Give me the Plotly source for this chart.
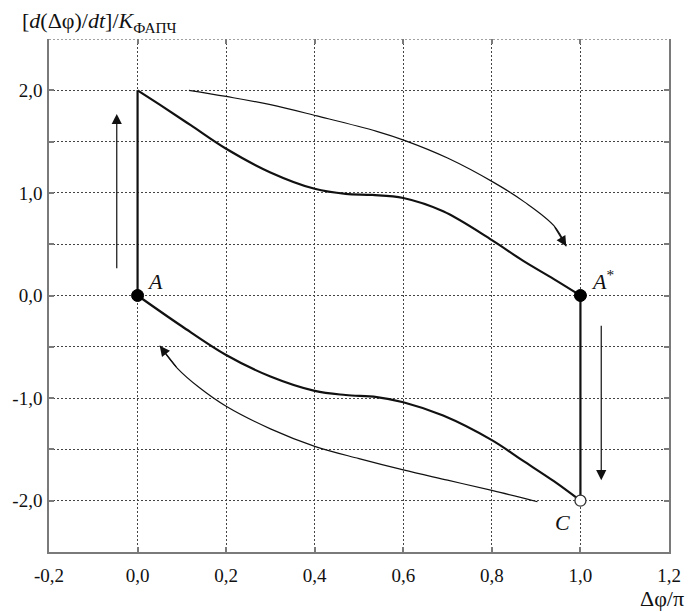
import plotly.graph_objects as go

# Phase trajectory of the PLL: upper branch from (0, 2) down to A*(1, 0)
upper_x = [0.0, 0.05, 0.12, 0.20, 0.30, 0.40, 0.47, 0.53, 0.60, 0.69, 0.80, 0.87, 0.94, 1.0]
upper_y = [2.0, 1.86, 1.66, 1.43, 1.20, 1.04, 0.99, 0.98, 0.95, 0.82, 0.54, 0.34, 0.16, 0.0]

# Lower branch from A(0, 0) down to C(1, -2)
lower_x = [0.0, 0.10, 0.20, 0.30, 0.40, 0.47, 0.54, 0.60, 0.69, 0.80, 0.87, 0.94, 1.0]
lower_y = [0.0, -0.30, -0.58, -0.79, -0.93, -0.97, -0.99, -1.04, -1.17, -1.41, -1.61, -1.81, -2.0]

# Vertical jumps of the phase error
jump_left_x = [0.0, 0.0]
jump_left_y = [0.0, 2.0]
jump_right_x = [1.0, 1.0]
jump_right_y = [0.0, -2.0]

# Thin direction-of-motion arrows along the branches
flow_upper_x = [0.116, 0.20, 0.30, 0.405, 0.54, 0.604, 0.70, 0.805, 0.874, 0.94, 0.968]
flow_upper_y = [2.0, 1.94, 1.86, 1.75, 1.60, 1.51, 1.34, 1.10, 0.91, 0.68, 0.48]
flow_lower_x = [0.903, 0.80, 0.70, 0.60, 0.50, 0.40, 0.30, 0.20, 0.14, 0.09, 0.05]
flow_lower_y = [-2.01, -1.90, -1.80, -1.70, -1.59, -1.47, -1.30, -1.08, -0.90, -0.71, -0.49]

# Straight arrows beside the jumps: (x, y_start, y_end)
arrow_up = (-0.047, 0.25, 1.77)
arrow_down = (1.047, -0.28, -1.80)

# Special points
points_filled_x = [0.0, 1.0]
points_filled_y = [0.0, 0.0]
point_open_x = [1.0]
point_open_y = [-2.0]

# Axes ticks
x_ticks = [-0.2, 0.0, 0.2, 0.4, 0.6, 0.8, 1.0, 1.2]
x_tick_labels = ["-0,2", "0,0", "0,2", "0,4", "0,6", "0,8", "1,0", "1,2"]
y_ticks = [-2.5, -2.0, -1.5, -1.0, -0.5, 0.0, 0.5, 1.0, 1.5, 2.0, 2.5]
y_tick_labels = ["", "-2,0", "", "-1,0", "", "0,0", "", "1,0", "", "2,0", ""]

FONT = "'Liberation Serif', 'Times New Roman', Times, serif"
INK = "#111111"
FRAME = "#7a7a7a"
GRID = "#444444"

fig = go.Figure()

thick = dict(color=INK, width=2.2)
thin = dict(color=INK, width=1.2)

fig.add_trace(go.Scatter(x=upper_x, y=upper_y, mode="lines",
                         line=dict(thick, shape="spline", smoothing=1.0)))
fig.add_trace(go.Scatter(x=lower_x, y=lower_y, mode="lines",
                         line=dict(thick, shape="spline", smoothing=1.0)))
fig.add_trace(go.Scatter(x=jump_left_x, y=jump_left_y, mode="lines", line=thick))
fig.add_trace(go.Scatter(x=jump_right_x, y=jump_right_y, mode="lines", line=thick))
fig.add_trace(go.Scatter(x=flow_upper_x, y=flow_upper_y, mode="lines",
                         line=dict(thin, shape="spline", smoothing=1.0)))
fig.add_trace(go.Scatter(x=flow_lower_x, y=flow_lower_y, mode="lines",
                         line=dict(thin, shape="spline", smoothing=1.0)))

fig.add_trace(go.Scatter(x=points_filled_x, y=points_filled_y, mode="markers",
                         marker=dict(size=12, color="#000000",
                                     line=dict(color="#000000", width=1))))
fig.add_trace(go.Scatter(x=point_open_x, y=point_open_y, mode="markers",
                         marker=dict(size=11, color="#ffffff",
                                     line=dict(color="#333333", width=1.3))))

# Empty trace that carries the top tick axis
fig.add_trace(go.Scatter(x=[], y=[], xaxis="x2", mode="lines", hoverinfo="skip"))

# Dotted upper edge of the plotting area (grid line at the top of the y range)
fig.add_shape(type="line", xref="paper", yref="y", x0=0, x1=1,
              y0=y_ticks[-1], y1=y_ticks[-1],
              line=dict(color=GRID, width=1, dash="2px,2px"), layer="below")

# Arrowheads of the curved flow lines
for xs, ys in ((flow_upper_x, flow_upper_y), (flow_lower_x, flow_lower_y)):
    fig.add_annotation(x=xs[-1], y=ys[-1], ax=xs[-2], ay=ys[-2],
                       xref="x", yref="y", axref="x", ayref="y",
                       text="", showarrow=True, arrowhead=2, arrowsize=1.7,
                       arrowwidth=1.2, arrowcolor=INK, standoff=0)

# Straight arrows
for ax_x, y0, y1 in (arrow_up, arrow_down):
    fig.add_annotation(x=ax_x, y=y1, ax=ax_x, ay=y0,
                       xref="x", yref="y", axref="x", ayref="y",
                       text="", showarrow=True, arrowhead=2, arrowsize=1.7,
                       arrowwidth=1.2, arrowcolor=INK, standoff=0)

# Point labels
label_font = dict(family=FONT, size=22, color=INK)
fig.add_annotation(x=points_filled_x[0], y=points_filled_y[0], text="<i>A</i>",
                   showarrow=False, xanchor="left", yanchor="bottom",
                   xshift=7, yshift=0, font=label_font)
fig.add_annotation(x=points_filled_x[1], y=points_filled_y[1], text="<i>A</i><sup>*</sup>",
                   showarrow=False, xanchor="left", yanchor="bottom",
                   xshift=9, yshift=0, font=label_font)
fig.add_annotation(x=point_open_x[0], y=point_open_y[0], text="<i>C</i>",
                   showarrow=False, xanchor="right", yanchor="middle",
                   xshift=-8, yshift=-22, font=label_font)

# Axis titles
fig.add_annotation(xref="paper", yref="paper", x=-0.046, y=1.033,
                   xanchor="left", yanchor="middle", showarrow=False,
                   text="[<i>d</i>(Δφ)/<i>dt</i>]/<i>K</i><sub>ФАПЧ</sub>",
                   font=dict(family=FONT, size=22, color=INK))
fig.add_annotation(xref="paper", yref="paper", x=1.027, y=-0.09,
                   xanchor="right", yanchor="middle", showarrow=False,
                   text="Δφ/π", font=dict(family=FONT, size=22, color=INK))

grid = dict(showgrid=True, gridcolor=GRID, gridwidth=1, griddash="2px,2px",
            zeroline=False)

fig.update_layout(
    width=693, height=612,
    margin=dict(l=46, r=14, t=39, b=60),
    paper_bgcolor="white", plot_bgcolor="white",
    showlegend=False,
    font=dict(family=FONT, size=19, color=INK),
    xaxis=dict(range=[-0.2, 1.2], tickvals=x_ticks, ticktext=x_tick_labels,
               showline=True, linecolor=FRAME, linewidth=1.5, mirror=False,
               ticks="inside", ticklen=5, tickcolor=FRAME, tickwidth=1.5,
               ticklabelstandoff=5, tickfont=dict(family=FONT, size=19, color=INK),
               **grid),
    xaxis2=dict(range=[-0.2, 1.2], overlaying="x", side="top", anchor="y",
                tickvals=x_ticks, showticklabels=False, showline=False,
                showgrid=False, zeroline=False, ticks="inside", ticklen=5,
                tickcolor=FRAME, tickwidth=1.5),
    yaxis=dict(range=[-2.5, 2.5], tickvals=y_ticks, ticktext=y_tick_labels,
               showline=True, linecolor=FRAME, linewidth=1.5, mirror="ticks",
               ticks="inside", ticklen=5, tickcolor=FRAME, tickwidth=1.5,
               ticklabelstandoff=1, tickfont=dict(family=FONT, size=19, color=INK),
               **grid),
)

fig.write_html("out.html")
